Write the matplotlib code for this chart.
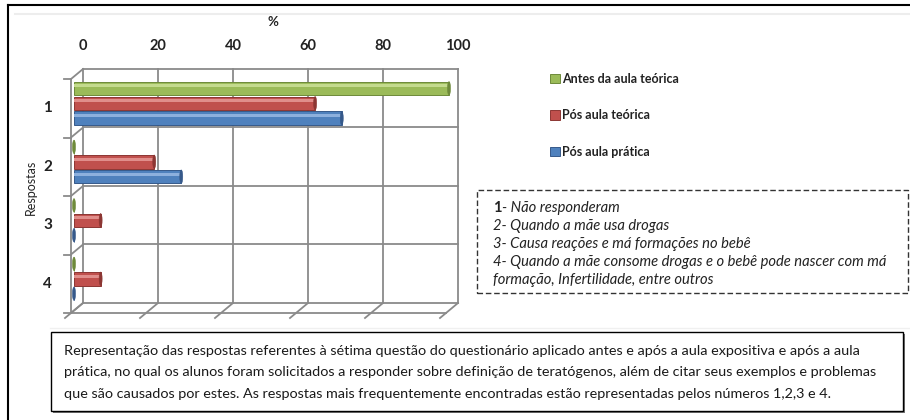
import matplotlib
matplotlib.use("Agg")
import matplotlib.pyplot as plt
from matplotlib.patches import Rectangle, Ellipse

plt.rcParams['font.family'] = ['Lato', 'DejaVu Sans']

# data (percent of students per answer)
categorias = ['1', '2', '3', '4']
series = ['Antes da aula teórica', 'Pós aula teórica', 'Pós aula prática']
antes = [100, 0, 0, 0]
pos_teorica = [64.3, 21.4, 7.1, 7.1]
pos_pratica = [71.4, 28.6, 0, 0]
xticks = [0, 20, 40, 60, 80, 100]

cores = ['#9BBB59', '#C0504D', '#4F81BD']
bordas = ['#6E8A3A', '#8C3633', '#36598A']
claras = ['#C4DB8E', '#E08E8B', '#8DB0DD']

notas = ['- Não responderam',
         '2- Quando a mãe usa drogas',
         '3- Causa reações e má formações no bebê',
         '4- Quando a mãe consome drogas e o bebê pode nascer com má',
         'formação, Infertilidade, entre outros']
legenda_linhas = ['Representação das respostas referentes à sétima questão do questionário aplicado antes e após a aula expositiva e após a aula',
                  'prática, no qual os alunos foram solicitados a responder sobre definição de teratógenos, além de citar seus exemplos e problemas',
                  'que são causados por estes. As respostas mais frequentemente encontradas estão representadas pelos números 1,2,3 e 4.']

W, H = 910, 420
def fx(x):
    return x / W
def fy(y):
    return 1 - y / H

fig = plt.figure(figsize=(9.1, 4.2), dpi=100)
ax = fig.add_axes([fx(71), fy(313), 375 / W, 234 / H])
ax.set_xlim(0, 100)
ax.set_ylim(3.5, -0.5)
ax.axis('off')

# fake 3D: back wall shifted right/up
DX, DY = 3.2, 0.171
grid = dict(color='#8A8A8A', lw=1.3, clip_on=False, zorder=1)
for x in xticks:
    ax.plot([x + DX, x + DX], [-0.5 - DY, 3.5 - DY], **grid)
    ax.plot([x - DX * 0.5, x + DX], [3.5 + DY * 0.5, 3.5 - DY], **grid)
    ax.text(x + DX, -1.06, str(x), ha='center', va='center', fontsize=10.5,
            fontweight='bold', color='#222222')
for i in range(5):
    b = i - 0.5
    ax.plot([DX, 100 + DX], [b - DY, b - DY], **grid)
    ax.plot([0, DX], [b, b - DY], **grid)
    ax.plot([-2.0, 0], [b, b], **grid)
ax.plot([0, 0], [-0.5, 3.5], **grid)
ax.plot([0, 100], [3.5, 3.5], **grid)

# cylinder-like bars
h = 0.23
offs = [-0.34, -0.085, 0.17]
dados = [antes, pos_teorica, pos_pratica]
handles = []
for k, vals in enumerate(dados):
    ys = [i + offs[k] for i in range(len(categorias))]
    bc = ax.barh(ys, vals, height=h, left=0.8, color=cores[k],
                 edgecolor=bordas[k], linewidth=0.7, zorder=3, label=series[k],
                 clip_on=False)
    handles.append(bc)
    ax.barh([y - 0.045 for y in ys], vals, height=0.05, left=0.8,
            color=claras[k], linewidth=0, zorder=4, clip_on=False)
    for y, v in zip(ys, vals):
        ax.add_patch(Ellipse((0.8 + v, y), 0.8, h, facecolor=bordas[k],
                             edgecolor=bordas[k], lw=0.4, zorder=5,
                             clip_on=False))

for i, c in enumerate(categorias):
    ax.text(-6.2, i, c, ha='center', va='center', fontsize=11,
            fontweight='bold', color='#222222')
ax.text(-10.7, 1.36, 'Respostas', rotation=90, ha='center', va='center',
        fontsize=9, color='#222222')
fig.text(fx(273), fy(22), '%', ha='center', va='center', fontsize=9.5,
         fontweight='bold', color='#222222')

leg = fig.legend(handles=handles, loc='upper left',
                 bbox_to_anchor=(fx(544), fy(67)), frameon=False,
                 fontsize=9, handlelength=0.75, handleheight=0.75,
                 handletextpad=0.2, labelspacing=1.93, borderpad=0)
for t in leg.get_texts():
    t.set_fontweight('bold')
    t.set_color('#222222')

# outer frame and chart area
fig.add_artist(plt.Line2D([fx(8), fx(8)], [fy(5), 0], color='black', lw=1.5))
fig.add_artist(plt.Line2D([fx(8), 1], [fy(5), fy(5)], color='black', lw=1.5))
fig.add_artist(plt.Line2D([fx(15), 1], [fy(14), fy(14)], color='#EDEDED', lw=1.5))
fig.add_artist(plt.Line2D([fx(50), 1], [fy(328), fy(328)], color='#F0F0F0', lw=1.0))

# dashed notes box
fig.add_artist(Rectangle((fx(477), fy(293)), (908 - 477) / W, (293 - 190) / H,
                         fill=False, edgecolor='#333333', lw=1.0, ls=(0, (4, 2))))
fig.text(fx(493), fy(208), '1', ha='left', va='center', fontsize=10.6,
         fontweight='bold', color='#222222')
fig.text(fx(501.5), fy(208), notas[0], ha='left', va='center', fontsize=10.6,
         style='italic', color='#222222')
for j, linha in enumerate(notas[1:]):
    fig.text(fx(493), fy(226 + 18 * j), linha, ha='left', va='center',
             fontsize=10.6, style='italic', color='#222222')

# caption box with shadow
fig.add_artist(Rectangle((fx(53), fy(413)), (903 - 51) / W, (411 - 332) / H,
                         facecolor='#777777', edgecolor='none'))
fig.add_artist(Rectangle((fx(51), fy(411)), (903 - 51) / W, (411 - 332) / H,
                         facecolor='white', edgecolor='black', lw=1.0))
for j, linha in enumerate(legenda_linhas):
    fig.text(fx(64), fy(351 + 21.5 * j), linha, ha='left', va='center',
             fontsize=10.4, color='#1A1A1A')

fig.savefig('out.png', dpi=100)
